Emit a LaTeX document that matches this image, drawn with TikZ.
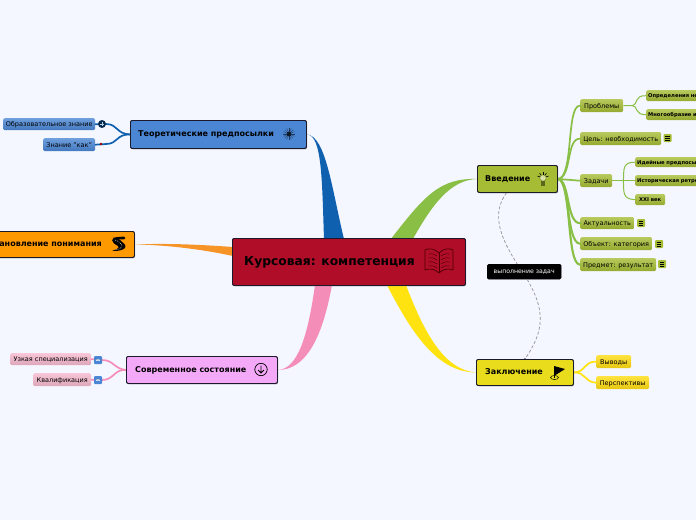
\documentclass[tikz,border=0pt]{standalone}
\usepackage{fontspec}
\setmainfont{DejaVu Sans}
\usetikzlibrary{calc,shadows}
\definecolor{bgc}{HTML}{F4F7FF}
\definecolor{redc}{HTML}{B00D28}
\definecolor{bluec}{HTML}{4A86D4}
\definecolor{orangec}{HTML}{FF9900}
\definecolor{pinkc}{HTML}{F4A9F8}
\definecolor{greenc}{HTML}{A5BC34}
\definecolor{yellowc}{HTML}{E8DC1C}
\definecolor{linkb}{HTML}{1060B0}
\definecolor{linko}{HTML}{F79428}
\definecolor{linkp}{HTML}{F48DB8}
\definecolor{linkg}{HTML}{88BF44}
\definecolor{linky}{HTML}{FFE310}
\definecolor{edgec}{HTML}{1A1A2A}
\definecolor{leafp}{HTML}{F6B8CE}
\definecolor{leafy}{HTML}{FFDC10}
\tikzset{
  topic/.style={draw=edgec,line width=0.9pt,rounded corners=2pt,inner sep=0pt,anchor=north west,
    font=\fontsize{8}{10}\selectfont\bfseries,text=black,align=left,drop shadow={shadow xshift=0.6pt,shadow yshift=-0.9pt,opacity=0.35}},
  leafg/.style={rounded corners=1.5pt,inner sep=0pt,anchor=north west,top color=#1!80!white,bottom color=#1!90!black,
    font=\fontsize{6.5}{8}\selectfont,text=black,text depth=0pt},
  tiny/.style={leafg=greenc,font=\fontsize{5.2}{7}\selectfont\bfseries},
  iconnote/.style={rounded corners=1pt,fill=greenc,minimum width=8pt,minimum height=8pt,inner sep=0pt,
    font=\fontsize{6}{6}\selectfont\bfseries,text=black},
  iconmail/.style={rounded corners=1pt,fill=bluec,minimum width=8pt,minimum height=8pt,inner sep=0pt},
  lk/.style={draw=#1,line width=1.7pt,line cap=round},
  rel/.style={draw=gray!85,line width=0.7pt,dash pattern=on 3pt off 2pt},
}
\newcommand{\notebars}[1]{\draw[black,line width=0.7pt] ($(#1)+(-2.3,-2)$)--($(#1)+(2.3,-2)$) ($(#1)+(-2.3,0)$)--($(#1)+(2.3,0)$) ($(#1)+(-2.3,2)$)--($(#1)+(2.3,2)$);}
\newcommand{\mailmark}[1]{\fill[white!85!bluec] ($(#1)+(-2.2,-1.2)$) rectangle ($(#1)+(2.2,1.2)$);\draw[bluec!70!black,line width=0.3pt] ($(#1)+(-2.2,-1.2)$)--($(#1)+(0,0.3)$)--($(#1)+(2.2,-1.2)$);}
\begin{document}
\begin{tikzpicture}[x=1pt,y=-1pt]
\useasboundingbox (0,0) rectangle (696,520);
\clip (0,0) rectangle (696,520);
\fill[bgc] (0,0) rectangle (696,520);

\path
 node[topic,fill=redc,minimum width=233pt,minimum height=47pt] (cen) at (232,238) {}
 node[topic,fill=bluec,minimum width=176pt,minimum height=28pt] (teo) at (130,120) {}
 node[topic,fill=orangec,minimum width=174pt,minimum height=26pt] (sta) at (-40,231) {}
 node[topic,fill=pinkc,minimum width=151pt,minimum height=27pt] (sov) at (126,356) {}
 node[topic,fill=greenc,minimum width=80pt,minimum height=27pt] (vve) at (477,165) {}
 node[topic,fill=yellowc,minimum width=97pt,minimum height=26pt] (zak) at (476,359) {};

% tapered main branches
\fill[linkb] (teo.east) .. controls (322,135) and (322,180) .. ($(cen.north west)+(92,1)$)
  -- ($(cen.north west)+(112,1)$) .. controls (332,190) and (326,136) .. (teo.east) -- cycle;
\fill[linko] (sta.east) .. controls (170,243) and (205,245) .. ($(cen.north west)+(1,9)$)
  -- ($(cen.north west)+(1,18)$) .. controls (205,250) and (170,245) .. (sta.east) -- cycle;
\fill[linkp] (sov.east) .. controls (298,369) and (308,335) .. ($(cen.south west)+(83,-1)$)
  -- ($(cen.south west)+(100,-1)$) .. controls (322,340) and (305,370) .. (sov.east) -- cycle;
\fill[linkg] (vve.west) .. controls (440,178) and (425,195) .. ($(cen.north east)+(-75,1)$)
  -- ($(cen.north east)+(-53,1)$) .. controls (432,205) and (450,180) .. (vve.west) -- cycle;
\fill[linky] (zak.west) .. controls (440,372) and (415,340) .. ($(cen.south east)+(-79,-1)$)
  -- ($(cen.south east)+(-60,-1)$) .. controls (425,335) and (445,370) .. (zak.west) -- cycle;

% leaves
\node[leafg=bluec,minimum width=92pt,minimum height=12pt] (obr) at (3,118) {Образовательное знание};
\node[leafg=bluec,minimum width=52pt,minimum height=13pt] (kak) at (43,138) {Знание "как"};
\node[leafg=leafp,minimum width=81pt,minimum height=12pt] (uzk) at (10,353) {Узкая специализация};
\node[leafg=leafp,minimum width=58pt,minimum height=13pt] (kva) at (33,373) {Квалификация};
\node[leafg=greenc,minimum width=43pt,minimum height=13pt] (pro) at (580,99) {Проблемы};
\node[leafg=greenc,minimum width=81pt,minimum height=13pt] (cel) at (580,132) {Цель: необходимость};
\node[leafg=greenc,minimum width=32pt,minimum height=13pt] (zad) at (580,174) {Задачи};
\node[leafg=greenc,minimum width=54pt,minimum height=12pt] (akt) at (580,217) {Актуальность};
\node[leafg=greenc,minimum width=72pt,minimum height=13pt] (obk) at (580,237) {Объект: категория};
\node[leafg=greenc,minimum width=76pt,minimum height=13pt] (pre) at (580,258) {Предмет: результат};
\node[tiny,minimum height=11pt,minimum width=60pt,text width=56pt,align=left] (opr) at (646,90) {Определения не};
\node[tiny,minimum height=11pt,minimum width=60pt,text width=56pt,align=left] (mno) at (646,109) {Многообразие и};
\node[tiny,minimum height=10pt,minimum width=70pt,text width=66pt,align=left] (ide) at (635,157) {Идейные предпосы};
\node[tiny,minimum height=11pt,minimum width=70pt,text width=66pt,align=left] (ist) at (635,175) {Историческая ретро};
\node[tiny,minimum height=11pt,minimum width=30pt] (xxi) at (635,194) {XXI век};
\node[leafg=leafy,minimum width=35pt,minimum height=13pt] (vyv) at (596,355) {Выводы};
\node[leafg=leafy,minimum width=53pt,minimum height=13pt] (per) at (596,376) {Перспективы};

% small connectors
\draw[lk=linkb] (teo.west) .. controls (116,134) and (118,124) .. (106,124) -- (obr.east);
\draw[lk=linkb] (teo.west) .. controls (116,134) and (118,144) .. (106,144) -- (kak.east);
\draw[lk=linkp] (sov.west) .. controls (114,369) and (114,360) .. (102,360) -- (uzk.east);
\draw[lk=linkp] (sov.west) .. controls (114,369) and (114,380) .. (102,380) -- (kva.east);
\draw[lk=linkg] (vve.east) .. controls (574,178) and (566,105) .. (pro.west);
\draw[lk=linkg] (vve.east) .. controls (572,178) and (566,138) .. (cel.west);
\draw[lk=linkg] (vve.east) -- (zad.west);
\draw[lk=linkg,line width=2.1pt] (vve.east) .. controls (570,180) and (566,223) .. (akt.west);
\draw[lk=linkg,line width=2.1pt] (vve.east) .. controls (570,180) and (566,243) .. (obk.west);
\draw[lk=linkg,line width=2.1pt] (vve.east) .. controls (572,180) and (566,264) .. (pre.west);
\draw[linkg,line width=1pt] (pro.east) -- +(9,0) (pro.east) ++(9,0) .. controls (638,105) and (634,95) .. (opr.west);
\draw[linkg,line width=1pt] (pro.east) ++(9,0) .. controls (638,105) and (634,115) .. (mno.west);
\draw[linkg,line width=1pt] (zad.east) -- (ist.west);
\draw[linkg,line width=1pt] (zad.east) ++(11,0) .. controls (624,170) and (622,162) .. (ide.west);
\draw[linkg,line width=1pt] (zad.east) ++(11,0) .. controls (624,192) and (622,199) .. (xxi.west);
\draw[lk=linky] (zak.east) .. controls (586,372) and (584,361) .. (vyv.west);
\draw[lk=linky] (zak.east) .. controls (586,372) and (584,382) .. (per.west);

% relation through its label
\node[draw=black,fill=black,rounded corners=1.5pt,inner sep=0pt,minimum width=74pt,minimum height=15pt,anchor=north west,
  text=white,font=\fontsize{6.2}{8}\selectfont] (lab) at (487,264) {выполнение задач};
\draw[rel] ($(vve.south)+(-11,0)$) .. controls (490,215) and (502,240) .. ($(lab.north)+(-7,0)$);
\draw[rel] ($(lab.south)+(3,0)$) .. controls (545,310) and (545,330) .. (zak.north);
\fill[gray!70!black] (zak.north) circle (1pt);

% topic nodes on top, with their texts
\path
 node[topic,fill=redc,minimum width=233pt,minimum height=47pt] at (232,238) {}
 node[topic,fill=bluec,minimum width=176pt,minimum height=28pt] at (130,120) {}
 node[topic,fill=orangec,minimum width=174pt,minimum height=26pt] at (-40,231) {}
 node[topic,fill=pinkc,minimum width=151pt,minimum height=27pt] at (126,356) {}
 node[topic,fill=greenc,minimum width=80pt,minimum height=27pt] at (477,165) {}
 node[topic,fill=yellowc,minimum width=97pt,minimum height=26pt] at (476,359) {};
\node[anchor=west,inner sep=0pt,font=\fontsize{12.3}{14}\selectfont\bfseries] (cent) at (244,262) {Курсовая: компетенция};
\node[anchor=west,inner sep=0pt,font=\fontsize{8}{10}\selectfont\bfseries] (teot) at (138,134) {Теоретические предпосылки};
\node[anchor=east,inner sep=0pt,font=\fontsize{8}{10}\selectfont\bfseries] (stat) at (102,244) {Становление понимания};
\node[anchor=west,inner sep=0pt,font=\fontsize{8}{10}\selectfont\bfseries] (sovt) at (135,370) {Современное состояние};
\node[anchor=west,inner sep=0pt,font=\fontsize{8}{10}\selectfont\bfseries] (vvet) at (485,179) {Введение};
\node[anchor=west,inner sep=0pt,font=\fontsize{8}{10}\selectfont\bfseries] (zakt) at (485,372) {Заключение};

% small icons
\node[iconnote] (i1) at (667.5,138) {}; \notebars{i1}
\node[iconnote] (i2) at (641,223) {}; \notebars{i2}
\node[iconnote] (i3) at (659,244) {}; \notebars{i3}
\node[iconnote] (i4) at (662,264) {}; \notebars{i4}
\node[iconmail] (m1) at (98,360) {}; \mailmark{m1}
\node[iconmail] (m2) at (98,380) {}; \mailmark{m2}
\node[circle,fill=black!55!linkb,minimum size=8pt,inner sep=0pt] (g1) at (102,124) {};
\draw[white!70!linkb,line width=0.4pt] (100,124) -- (104,124) (102,122) -- (102,126);
\fill[red!60!black] (101,144) circle (1.4pt);

% icon: starburst
\foreach \a in {0,22.5,...,337.5}{\draw[black!55!bluec,line width=0.35pt] (289,134) -- ++(\a:6);}
\fill[black!80!bluec] (289,134) circle (2.4pt);
% icon: winding road
\draw[black,line width=2.6pt,line cap=round] (114,239) .. controls (118,238) and (122,238) .. (124,238);
\fill[black] (112,240) .. controls (114,238) and (118,238) .. (120,240) .. controls (123,243) and (127,245) .. (125,248)
  .. controls (122,251) and (116,251) .. (112,251) .. controls (117,249) and (120,248) .. (118,246)
  .. controls (115,244) and (112,243) .. (112,240) -- cycle;
\draw[white,line width=0.4pt,dash pattern=on 1pt off 1pt] (115,240) .. controls (119,241) and (123,245) .. (122,247) .. controls (120,249) and (117,250) .. (115,250);
% icon: arrow in a circle
\draw[black,line width=0.7pt] (261,369.5) circle (6.2pt);
\draw[black,line width=0.8pt] (261,365.5) -- (261,373) (258,370) -- (261,373) -- (264,370);
% icon: bulb
\draw[black!35!greenc,line width=0.4pt,fill=greenc!45!white] (543,178) circle (3.2pt);
\fill[black!45!greenc] (541.2,181) rectangle (544.8,186);
\foreach \a in {-160,-125,-90,-55,-20}{\draw[black,line width=0.6pt] (543,178) ++(\a:3.4) -- ++(\a:2.4);}
% icon: flag
\fill[black] (554,366) -- (565,369) -- (554,376) -- cycle;
\draw[black,line width=0.8pt] (554,366) -- (554,378);
\draw[black,line width=0.5pt] (554.5,377.5) ellipse (4pt and 2pt);
% icon: book
\begin{scope}[draw=red!30!black,line width=0.7pt]
\draw (439,253) .. controls (434,248) and (428,248) .. (425,250) -- (425,270) .. controls (430,268) and (435,269) .. (439,273)
   .. controls (443,269) and (448,268) .. (453,270) -- (453,250) .. controls (450,248) and (444,248) .. (439,253) -- cycle;
\draw (439,253) -- (439,273);
\foreach \d in {0,4,8,12}{
  \draw[line width=0.45pt] (428,254+\d) .. controls (431,253+\d) and (434,254+\d) .. (437,256+\d);
  \draw[line width=0.45pt] (450,254+\d) .. controls (447,253+\d) and (444,254+\d) .. (441,256+\d);
}
\end{scope}
\end{tikzpicture}
\end{document}
